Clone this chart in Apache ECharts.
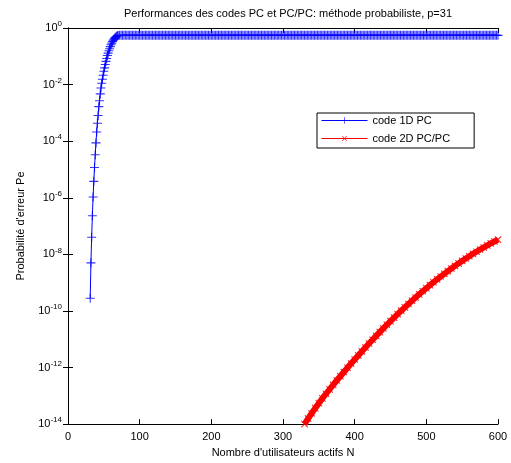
<!DOCTYPE html>
<html>
<head>
<meta charset="utf-8">
<script src="https://cdn.jsdelivr.net/npm/echarts@6/dist/echarts.min.js"></script>
<style>html,body{margin:0;padding:0;background:#fff}#c{width:511px;height:463px}</style>
</head>
<body>
<div id="c"></div>
<script>
// ---- data ----
var titleText = "Performances des codes PC et PC/PC: méthode probabiliste, p=31";
var xName = "Nombre d'utilisateurs actifs N";
var yName = "Probabilité d'erreur Pe";
var legendNames = ["code 1D PC", "code 2D PC/PC"];
var xTicks = [0, 100, 200, 300, 400, 500, 600];
var yTickExponents = [0, -2, -4, -6, -8, -10, -12, -14];

// code 1D PC : rising part (N = 31..69, step 1)
var nBlueRise = [31,32,33,34,35,36,37,38,39,40,41,42,43,44,45,46,47,48,49,50,
                 51,52,53,54,55,56,57,58,59,60,61,62,63,64,65,66,67,68,69];
var peBlueRise = [2.8e-10,5.0e-9,4.0e-8,2.3e-7,1.07e-6,3.8e-6,1.17e-5,3.3e-5,8.7e-5,2.1e-4,
                  4.3e-4,8.1e-4,1.66e-3,2.7e-3,4.7e-3,7.6e-3,0.0112,0.0155,0.0214,0.0295,
                  0.039,0.051,0.066,0.083,0.107,0.129,0.158,0.186,0.219,0.257,
                  0.29,0.33,0.37,0.40,0.43,0.46,0.49,0.51,0.53];
// code 1D PC : flat part (N = 70..600, step 2)
var nBlueFlat = [70,72,74,76,78,80,82,84,86,88,90,92,94,96,98,100,102,104,106,108,
                 110,112,114,116,118,120,122,124,126,128,130,132,134,136,138,140,142,144,146,148,
                 150,152,154,156,158,160,162,164,166,168,170,172,174,176,178,180,182,184,186,188,
                 190,192,194,196,198,200,202,204,206,208,210,212,214,216,218,220,222,224,226,228,
                 230,232,234,236,238,240,242,244,246,248,250,252,254,256,258,260,262,264,266,268,
                 270,272,274,276,278,280,282,284,286,288,290,292,294,296,298,300,302,304,306,308,
                 310,312,314,316,318,320,322,324,326,328,330,332,334,336,338,340,342,344,346,348,
                 350,352,354,356,358,360,362,364,366,368,370,372,374,376,378,380,382,384,386,388,
                 390,392,394,396,398,400,402,404,406,408,410,412,414,416,418,420,422,424,426,428,
                 430,432,434,436,438,440,442,444,446,448,450,452,454,456,458,460,462,464,466,468,
                 470,472,474,476,478,480,482,484,486,488,490,492,494,496,498,500,502,504,506,508,
                 510,512,514,516,518,520,522,524,526,528,530,532,534,536,538,540,542,544,546,548,
                 550,552,554,556,558,560,562,564,566,568,570,572,574,576,578,580,582,584,586,588,
                 590,592,594,596,598,600];
var peBlueFlat = [0.54,0.55,0.55,0.55,0.55,0.55,0.55,0.55,0.55,0.55,0.55,0.55,0.55,0.55,0.55,0.55,0.55,0.55,0.55,0.55,
                  0.55,0.55,0.55,0.55,0.55,0.55,0.55,0.55,0.55,0.55,0.55,0.55,0.55,0.55,0.55,0.55,0.55,0.55,0.55,0.55,
                  0.55,0.55,0.55,0.55,0.55,0.55,0.55,0.55,0.55,0.55,0.55,0.55,0.55,0.55,0.55,0.55,0.55,0.55,0.55,0.55,
                  0.55,0.55,0.55,0.55,0.55,0.55,0.55,0.55,0.55,0.55,0.55,0.55,0.55,0.55,0.55,0.55,0.55,0.55,0.55,0.55,
                  0.55,0.55,0.55,0.55,0.55,0.55,0.55,0.55,0.55,0.55,0.55,0.55,0.55,0.55,0.55,0.55,0.55,0.55,0.55,0.55,
                  0.55,0.55,0.55,0.55,0.55,0.55,0.55,0.55,0.55,0.55,0.55,0.55,0.55,0.55,0.55,0.55,0.55,0.55,0.55,0.55,
                  0.55,0.55,0.55,0.55,0.55,0.55,0.55,0.55,0.55,0.55,0.55,0.55,0.55,0.55,0.55,0.55,0.55,0.55,0.55,0.55,
                  0.55,0.55,0.55,0.55,0.55,0.55,0.55,0.55,0.55,0.55,0.55,0.55,0.55,0.55,0.55,0.55,0.55,0.55,0.55,0.55,
                  0.55,0.55,0.55,0.55,0.55,0.55,0.55,0.55,0.55,0.55,0.55,0.55,0.55,0.55,0.55,0.55,0.55,0.55,0.55,0.55,
                  0.55,0.55,0.55,0.55,0.55,0.55,0.55,0.55,0.55,0.55,0.55,0.55,0.55,0.55,0.55,0.55,0.55,0.55,0.55,0.55,
                  0.55,0.55,0.55,0.55,0.55,0.55,0.55,0.55,0.55,0.55,0.55,0.55,0.55,0.55,0.55,0.55,0.55,0.55,0.55,0.55,
                  0.55,0.55,0.55,0.55,0.55,0.55,0.55,0.55,0.55,0.55,0.55,0.55,0.55,0.55,0.55,0.55,0.55,0.55,0.55,0.55,
                  0.55,0.55,0.55,0.55,0.55,0.55,0.55,0.55,0.55,0.55,0.55,0.55,0.55,0.55,0.55,0.55,0.55,0.55,0.55,0.55,
                  0.55,0.55,0.55,0.55,0.55,0.55];
// code 2D PC/PC (N = 330..600, step 5)
var nRed = [330,335,340,345,350,355,360,365,370,375,380,385,390,395,400,405,410,415,420,425,
            430,435,440,445,450,455,460,465,470,475,480,485,490,495,500,505,510,515,520,525,
            530,535,540,545,550,555,560,565,570,575,580,585,590,595,600];
var peRed = [1.00e-14,1.57e-14,2.42e-14,3.66e-14,5.48e-14,8.09e-14,1.18e-13,1.69e-13,2.43e-13,3.47e-13,
             4.92e-13,6.97e-13,9.82e-13,1.38e-12,1.92e-12,2.68e-12,3.71e-12,5.12e-12,7.03e-12,9.62e-12,
             1.31e-11,1.78e-11,2.40e-11,3.24e-11,4.34e-11,5.78e-11,7.69e-11,1.02e-10,1.34e-10,1.76e-10,
             2.30e-10,2.99e-10,3.86e-10,4.97e-10,6.37e-10,8.13e-10,1.03e-9,1.30e-9,1.64e-9,2.05e-9,
             2.55e-9,3.16e-9,3.90e-9,4.79e-9,5.85e-9,7.11e-9,8.59e-9,1.04e-8,1.24e-8,1.48e-8,
             1.75e-8,2.07e-8,2.43e-8,2.84e-8,3.31e-8];

// ---- build ----
function pairs(xs, ys){ var o=[]; for(var i=0;i<xs.length;i++) o.push([xs[i], ys[i]]); return o; }
var blueData = pairs(nBlueRise, peBlueRise).concat(pairs(nBlueFlat, peBlueFlat));
var redData = pairs(nRed, peRed);

var plusPath = 'path://M4.4,0H5.6V4.4H10V5.6H5.6V10H4.4V5.6H0V4.4H4.4Z';
var FONT = '"Liberation Sans", Arial, sans-serif';

function supLabel(v){
  var e = Math.round(Math.log(v)/Math.LN10);
  return '{b|10}{s|' + e + '}';
}

var chart = echarts.init(document.getElementById('c'), null, {renderer:'canvas'});
var yMin = Math.pow(10, yTickExponents[yTickExponents.length-1]);
var yMax = Math.pow(10, yTickExponents[0]);

chart.setOption({
  animation: false,
  backgroundColor: '#fff',
  title: {
    text: titleText, left: 283, top: 3, textAlign: 'center',
    textStyle: {fontFamily: FONT, fontSize: 11, fontWeight: 'normal', color: '#000'}
  },
  grid: {left: 68, right: 13, top: 28, bottom: 32, containLabel: false},
  legend: {
    orient: 'vertical', left: 317, top: 113,
    data: legendNames,
    backgroundColor: '#fff', borderColor: '#000', borderWidth: 1,
    padding: [2, 24, 4, 4], itemGap: 7, itemWidth: 46, itemHeight: 8,
    lineStyle: {width: 1},
    textStyle: {fontFamily: FONT, fontSize: 11, color: '#000'}
  },
  xAxis: [{
    type: 'value', min: xTicks[0], max: xTicks[xTicks.length-1], interval: 100,
    name: xName, nameLocation: 'middle', nameGap: 16,
    nameTextStyle: {fontFamily: FONT, fontSize: 11, color: '#000', verticalAlign: 'top'},
    axisLine: {show: true, lineStyle: {color: '#000', width: 1}},
    axisTick: {show: true, inside: true, length: 5, lineStyle: {color: '#000'}},
    axisLabel: {fontFamily: FONT, fontSize: 11, color: '#000', margin: 7},
    splitLine: {show: false}
  },{
    type: 'value', position: 'top', min: xTicks[0], max: xTicks[xTicks.length-1], interval: 100,
    axisLine: {show: true, lineStyle: {color: '#000', width: 1}},
    axisTick: {show: true, inside: true, length: 5, lineStyle: {color: '#000'}},
    axisLabel: {show: false}, splitLine: {show: false}
  }],
  yAxis: [{
    type: 'log', logBase: 10, min: yMin, max: yMax, interval: 2,
    name: yName, nameLocation: 'middle', nameGap: 42,
    nameTextStyle: {fontFamily: FONT, fontSize: 11, color: '#000'},
    axisLine: {show: true, lineStyle: {color: '#000', width: 1}},
    axisTick: {show: true, inside: true, length: 5, lineStyle: {color: '#000'}},
    axisLabel: {
      margin: 6, formatter: supLabel,
      rich: {
        b: {fontFamily: FONT, fontSize: 11, color: '#000'},
        s: {fontFamily: FONT, fontSize: 8, color: '#000', verticalAlign: 'bottom', padding: [0,0,8,0]}
      }
    },
    splitLine: {show: false}, minorTick: {show: false}
  },{
    type: 'log', logBase: 10, min: yMin, max: yMax, interval: 2, position: 'right',
    axisLine: {show: true, lineStyle: {color: '#000', width: 1}},
    axisTick: {show: true, inside: true, length: 5, lineStyle: {color: '#000'}},
    axisLabel: {show: false}, splitLine: {show: false}
  }],
  series: [{
    name: legendNames[0], type: 'line', data: blueData,
    xAxisIndex: 0, yAxisIndex: 0,
    symbol: plusPath, symbolSize: 9, showAllSymbol: true,
    lineStyle: {color: '#0000ff', width: 1},
    itemStyle: {color: '#0000ff', opacity: 0.8},
    emphasis: {disabled: true}
  },{
    name: legendNames[1], type: 'line', data: redData,
    xAxisIndex: 0, yAxisIndex: 0,
    symbol: plusPath, symbolSize: 9, symbolRotate: 45, showAllSymbol: true,
    lineStyle: {color: '#ff0000', width: 6},
    itemStyle: {color: '#ff0000', opacity: 0.85},
    emphasis: {disabled: true}
  }]
});
</script>
</body>
</html>
